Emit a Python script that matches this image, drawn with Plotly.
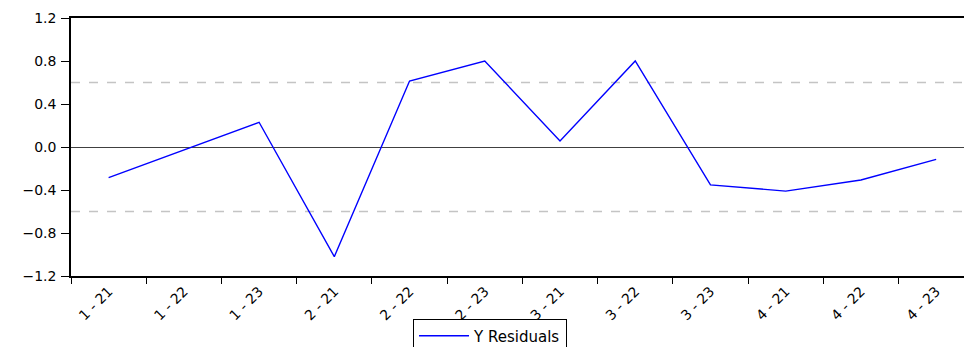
import plotly.graph_objects as go

# Panel period labels and residual values
periods = ["1 - 21", "1 - 22", "1 - 23", "2 - 21", "2 - 22", "2 - 23",
           "3 - 21", "3 - 22", "3 - 23", "4 - 21", "4 - 22", "4 - 23"]
residuals = [-0.285, -0.03, 0.23, -1.02, 0.614, 0.80,
             0.056, 0.80, -0.353, -0.41, -0.307, -0.115]
band_levels = [0.6, -0.6]
y_ticks = [-1.2, -0.8, -0.4, 0.0, 0.4, 0.8, 1.2]

fig = go.Figure()
fig.add_trace(go.Scatter(
    x=periods, y=residuals, mode="lines",
    name="Y Residuals", line=dict(color="#0000ff", width=1.4),
))

for lvl in band_levels:
    fig.add_shape(type="line", xref="paper", x0=0, x1=1, yref="y", y0=lvl, y1=lvl,
                  line=dict(color="#c4c4c4", width=1.5, dash="dash"), layer="below")

fig.update_layout(
    width=964, height=347,
    margin=dict(l=71, r=0, t=18, b=71, autoexpand=False),
    plot_bgcolor="white", paper_bgcolor="white",
    font=dict(family="DejaVu Sans", size=13, color="black"),
    showlegend=True,
    legend=dict(
        x=0.383, y=-0.165, xanchor="left", yanchor="top",
        bordercolor="black", borderwidth=1, bgcolor="white",
        font=dict(size=15, family="DejaVu Sans"),
        itemwidth=50,
    ),
    xaxis=dict(
        type="category", categoryorder="array", categoryarray=periods,
        range=[-0.5, 11.37],
        tickangle=-45, ticks="outside", ticklen=6, tickcolor="black",
        tickson="boundaries", automargin=False,
        tickfont=dict(size=14),
        showline=True, linecolor="black", linewidth=1.5, mirror=True,
        showgrid=False, zeroline=False,
    ),
    yaxis=dict(
        range=[-1.2, 1.2], tickmode="array", tickvals=y_ticks,
        tickformat=".1f", ticks="outside", ticklen=8, tickcolor="black",
        ticklabelstandoff=2, automargin=False,
        tickfont=dict(size=14),
        showline=True, linecolor="black", linewidth=1.5,
        showgrid=False, zeroline=True, zerolinecolor="#404040", zerolinewidth=1,
    ),
)

fig.write_html("out.html")
